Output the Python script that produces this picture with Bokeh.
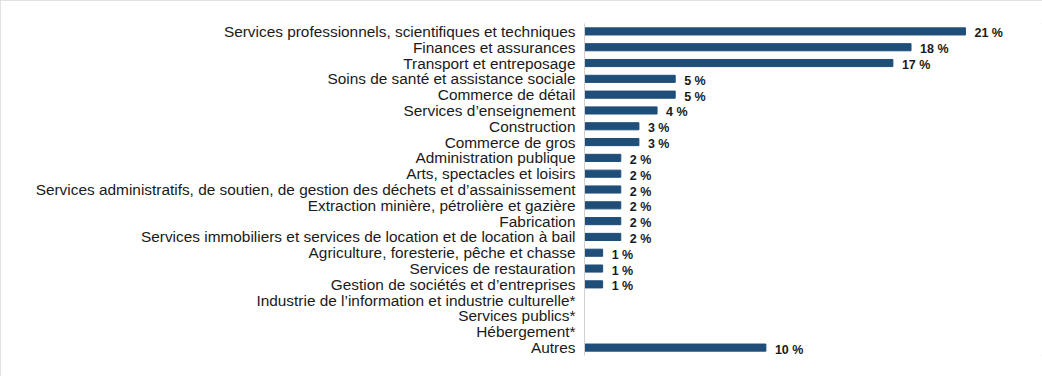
from bokeh.plotting import figure
from bokeh.models import ColumnDataSource, FactorRange, Range1d
from bokeh.core.properties import value
from bokeh.embed import file_html
from bokeh.resources import INLINE

categories = [
    "Services professionnels, scientifiques et techniques",
    "Finances et assurances",
    "Transport et entreposage",
    "Soins de santé et assistance sociale",
    "Commerce de détail",
    "Services d\u2019enseignement",
    "Construction",
    "Commerce de gros",
    "Administration publique",
    "Arts, spectacles et loisirs",
    "Services administratifs, de soutien, de gestion des déchets et d\u2019assainissement",
    "Extraction minière, pétrolière et gazière",
    "Fabrication",
    "Services immobiliers et services de location et de location à bail",
    "Agriculture, foresterie, pêche et chasse",
    "Services de restauration",
    "Gestion de sociétés et d\u2019entreprises",
    "Industrie de l\u2019information et industrie culturelle*",
    "Services publics*",
    "Hébergement*",
    "Autres",
]
values = [21, 18, 17, 5, 5, 4, 3, 3, 2, 2, 2, 2, 2, 2, 1, 1, 1, 0, 0, 0, 10]
labels = ["21 %", "18 %", "17 %", "5 %", "5 %", "4 %", "3 %", "3 %", "2 %", "2 %",
          "2 %", "2 %", "2 %", "2 %", "1 %", "1 %", "1 %", "", "", "", "10 %"]

src = ColumnDataSource(dict(cat=categories, val=values, lab=labels))

p = figure(width=1042, height=376, output_backend="svg", toolbar_location=None,
           y_range=FactorRange(factors=list(reversed(categories)), range_padding=0),
           x_range=Range1d(0, 458 / 18.14),
           min_border_left=584, min_border_right=0, min_border_top=23, min_border_bottom=21)
p.styles = {"outline": "1px solid #d9d9d9", "outline-offset": "-1px"}

p.hbar(y="cat", right="val", height=0.45, left=0, source=src,
       fill_color="#1F4E79", line_color="#1F4E79")

src_l = ColumnDataSource(dict(cat=[c for c, l in zip(categories, labels) if l],
                              val=[v for v, l in zip(values, labels) if l],
                              lab=[l for l in labels if l]))
p.text(x="val", y="cat", text="lab", source=src_l, x_offset=9, y_offset=2,
       text_font=value("Liberation Sans"), text_font_size="12.5px", text_font_style="bold",
       text_baseline="middle", text_align="left", text_color="#1a1a1a")

p.xaxis.visible = False
p.xgrid.visible = False
p.ygrid.visible = False
yax = p.yaxis[0]
yax.axis_line_color = "#d0d0d0"
yax.axis_line_width = 1
yax.major_tick_line_color = None
yax.minor_tick_line_color = None
yax.major_label_text_font = "Liberation Sans"
yax.major_label_text_font_size = "15.4px"
yax.major_label_text_color = "#1a1a1a"
yax.major_label_standoff = 3
p.outline_line_color = None
p.border_fill_color = "white"
p.background_fill_color = "white"

open("out.html", "w").write(file_html(p, INLINE))
